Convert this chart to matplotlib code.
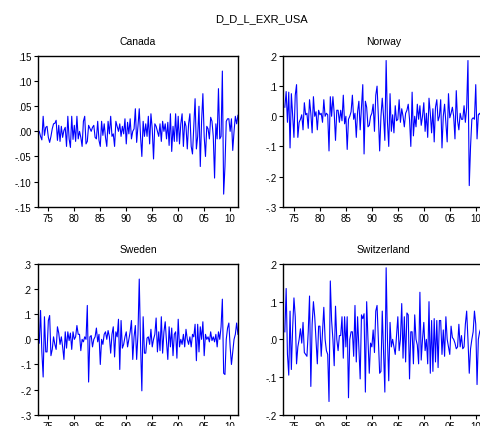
import numpy as np
import pandas as pd
import matplotlib
matplotlib.use("Agg")
import matplotlib.pyplot as plt

plt.rcParams['font.family'] = ['Liberation Sans', 'DejaVu Sans']

# quarterly observations, 1973Q2 - 2011Q3
quarters = pd.period_range("1973Q2", periods=154, freq="Q")
years = quarters.year + (quarters.quarter - 1) / 4.0

canada = [
    0.000, -0.010, -0.017, 0.030, -0.008, 0.008, 0.010, -0.012, -0.022, -0.010,
    0.005, 0.015, 0.016, 0.022, -0.018, 0.012, -0.020, 0.010, -0.012, 0.002,
    0.008, -0.030, 0.030, -0.015, -0.032, 0.030, -0.016, 0.012, -0.020, 0.030,
    -0.015, 0.000, -0.012, -0.030, 0.020, 0.030, -0.025, -0.020, 0.012, 0.006,
    0.000, 0.008, 0.012, -0.012, -0.015, 0.020, -0.018, -0.030, 0.020, -0.008,
    0.015, -0.012, -0.030, 0.020, -0.005, 0.030, -0.010, -0.005, -0.030, 0.020,
    0.010, 0.000, 0.015, -0.010, 0.010, -0.005, 0.025, -0.025, 0.018, -0.005,
    0.025, -0.015, 0.000, 0.005, 0.045, -0.022, 0.010, 0.045, -0.010, -0.050,
    0.020, -0.010, 0.015, -0.010, 0.030, -0.025, 0.035, 0.005, -0.055, 0.015,
    0.010, 0.000, -0.010, 0.015, -0.020, 0.020, 0.000, 0.015, -0.015, 0.018,
    -0.028, 0.035, -0.040, 0.010, -0.020, 0.035, -0.020, 0.030, -0.025, 0.015,
    0.035, -0.030, 0.020, 0.010, -0.035, 0.015, 0.035, -0.030, -0.045, 0.010,
    0.065, -0.035, -0.010, 0.050, -0.070, 0.020, 0.075, -0.010, -0.050, 0.010,
    0.005, -0.015, 0.028, 0.020, -0.010, -0.093, 0.015, -0.015, 0.085, -0.015,
    -0.010, 0.120, -0.125, -0.070, 0.020, 0.025, 0.025, 0.000, 0.025, -0.038,
    0.000, 0.030, 0.015, 0.032,
]

norway = [
    0.030, 0.082, -0.020, 0.080, -0.105, 0.075, 0.000, -0.070, 0.070, 0.105,
    -0.070, -0.020, -0.010, 0.005, -0.045, 0.045, 0.005, 0.010, -0.040, 0.055,
    0.010, -0.055, 0.065, 0.000, 0.015, -0.045, 0.020, 0.005, 0.010, -0.020,
    0.055, 0.000, 0.010, 0.005, -0.115, 0.065, 0.000, 0.065, 0.010, -0.080,
    0.020, 0.020, -0.020, 0.020, -0.015, 0.070, -0.025, 0.000, -0.110, -0.010,
    0.000, 0.015, 0.070, -0.010, 0.010, -0.070, 0.015, 0.050, -0.045, 0.030,
    0.105, -0.125, 0.050, 0.030, -0.035, -0.030, 0.000, 0.010, 0.040, -0.050,
    0.070, 0.100, 0.000, -0.115, 0.000, 0.060, 0.000, -0.080, 0.185, -0.020,
    -0.100, 0.075, -0.050, 0.005, -0.055, 0.035, -0.015, -0.010, 0.055, -0.020,
    0.025, 0.000, -0.035, 0.010, 0.020, 0.040, -0.010, -0.100, 0.080, -0.065,
    0.000, -0.035, 0.040, -0.010, 0.035, -0.030, 0.000, 0.045, -0.050, 0.010,
    -0.070, 0.060, 0.010, -0.055, 0.025, -0.085, 0.030, 0.055, -0.015, 0.000,
    0.055, -0.105, 0.000, 0.040, -0.020, -0.085, 0.075, -0.005, 0.010, 0.030,
    0.000, -0.075, 0.085, -0.015, -0.045, 0.010, -0.010, -0.010, 0.035, -0.020,
    0.030, 0.185, -0.230, -0.100, -0.010, -0.005, -0.010, 0.105, -0.075, 0.005,
    0.010, 0.000, -0.020, 0.010,
]

sweden = [
    -0.015, 0.115, -0.050, -0.150, 0.090, -0.050, -0.050, 0.075, 0.095, -0.065,
    -0.040, 0.010, -0.020, -0.040, 0.050, 0.025, -0.020, 0.010, -0.030, -0.080,
    0.030, -0.035, 0.030, -0.005, 0.025, -0.040, 0.030, 0.000, 0.010, 0.055,
    0.020, 0.020, -0.045, 0.000, -0.010, 0.010, 0.000, 0.135, -0.170, 0.010,
    0.015, -0.030, 0.000, 0.010, 0.045, -0.010, 0.020, -0.100, 0.000, -0.020,
    0.020, 0.030, 0.000, 0.035, 0.010, -0.055, 0.020, 0.050, -0.070, 0.030,
    0.010, 0.080, -0.120, 0.075, -0.035, -0.020, 0.010, 0.030, -0.030, 0.000,
    0.030, 0.075, -0.080, 0.010, 0.055, -0.080, 0.020, 0.240, -0.020, -0.205,
    0.090, -0.055, -0.055, 0.005, 0.010, -0.020, 0.040, -0.030, 0.000, 0.020,
    0.085, -0.050, 0.030, -0.045, 0.090, -0.055, 0.030, 0.070, -0.010, -0.080,
    0.050, -0.030, 0.045, -0.065, 0.020, 0.030, -0.075, 0.080, -0.030, 0.000,
    -0.020, 0.020, -0.030, 0.040, 0.000, -0.020, 0.010, -0.030, 0.020, 0.010,
    0.060, -0.085, 0.060, -0.050, 0.050, 0.000, 0.070, -0.065, 0.020, 0.000,
    0.010, -0.010, 0.030, -0.005, 0.010, -0.010, 0.020, -0.030, 0.030, 0.000,
    0.050, 0.160, -0.135, -0.140, 0.000, 0.045, 0.065, -0.030, -0.100, -0.050,
    0.000, 0.020, 0.065, 0.020,
]

switzerland = [
    0.020, 0.135, -0.040, -0.095, 0.075, -0.080, 0.030, 0.110, 0.060, -0.065,
    -0.020, 0.000, 0.028, -0.010, 0.045, -0.035, -0.040, -0.045, 0.020, 0.115,
    -0.125, 0.040, 0.100, 0.060, 0.000, -0.065, 0.035, 0.035, -0.045, 0.020,
    0.085, 0.000, -0.030, -0.040, -0.165, 0.155, 0.050, 0.000, -0.070, 0.088,
    0.000, -0.030, 0.010, 0.010, 0.060, -0.050, 0.060, -0.020, 0.060, -0.155,
    0.000, 0.020, 0.020, -0.045, 0.090, -0.060, 0.060, -0.020, -0.105, 0.065,
    0.055, 0.068, -0.140, 0.100, 0.000, -0.090, -0.010, -0.020, 0.025, -0.035,
    0.075, 0.090, 0.000, -0.090, -0.085, 0.075, -0.030, -0.140, 0.190, 0.000,
    -0.110, 0.045, -0.020, 0.000, -0.020, -0.040, 0.010, 0.060, -0.030, 0.000,
    0.095, -0.050, 0.060, -0.060, 0.070, 0.065, -0.105, 0.020, 0.020, -0.065,
    0.065, 0.000, -0.015, -0.065, 0.125, -0.055, 0.000, 0.045, -0.030, 0.000,
    -0.065, 0.100, -0.090, 0.050, -0.085, 0.055, -0.060, 0.050, -0.075, 0.050,
    0.050, -0.040, 0.025, -0.045, 0.060, 0.000, -0.020, -0.040, 0.035, 0.005,
    0.000, -0.010, -0.025, -0.020, 0.040, -0.020, 0.010, -0.025, -0.020, 0.040,
    0.075, 0.000, -0.090, -0.025, 0.000, 0.020, 0.075, 0.040, -0.120, 0.000,
    0.020, 0.030, -0.010, 0.010,
]

panels = [
    ("Canada", canada, [-0.15, -0.10, -0.05, 0.0, 0.05, 0.10, 0.15], 2),
    ("Norway", norway, [-0.3, -0.2, -0.1, 0.0, 0.1, 0.2], 1),
    ("Sweden", sweden, [-0.3, -0.2, -0.1, 0.0, 0.1, 0.2, 0.3], 1),
    ("Switzerland", switzerland, [-0.2, -0.1, 0.0, 0.1, 0.2], 1),
]

xticks = list(range(1975, 2011, 5))
xlabels = ["%02d" % (y % 100) for y in xticks]


def tick_text(v, d):
    s = "%.*f" % (d, v)
    if s.startswith("-0."):
        s = "-" + s[2:]
    elif s.startswith("0."):
        s = s[1:]
    if s.startswith("-") and float(s) == 0:
        s = s[1:]
    return s


fig = plt.figure(figsize=(4.8, 4.27), dpi=100)
fig.text(0.545, 1 - 19 / 427, "D_D_L_EXR_USA", ha="center", va="center", fontsize=8)

# panel boxes in pixels: left, top
W, H = 200.5, 150.7
boxes = [(37.7, 57.0), (283.3, 57.0), (37.7, 265.0), (283.3, 265.0)]

for (name, vals, yt, dec), (px, py) in zip(panels, boxes):
    ax = fig.add_axes([px / 480, 1 - (py + H) / 427, W / 480, H / 427])
    ax.plot(years, vals, color="#0000ff", lw=0.8)
    ax.set_xlim(1972.95, 2011.55)
    ax.set_ylim(yt[0], yt[-1])
    ax.set_yticks(yt)
    ax.set_yticklabels([tick_text(v, dec) for v in yt])
    ax.set_xticks(xticks)
    ax.set_xticklabels(xlabels)
    ax.tick_params(direction="out", length=3, width=0.8, labelsize=7, pad=1.5,
                   colors="black")
    for sp in ax.spines.values():
        sp.set_linewidth(1.0)
    ax.set_title(name, fontsize=7.5, pad=8.5)

fig.savefig("out.png", dpi=100)
